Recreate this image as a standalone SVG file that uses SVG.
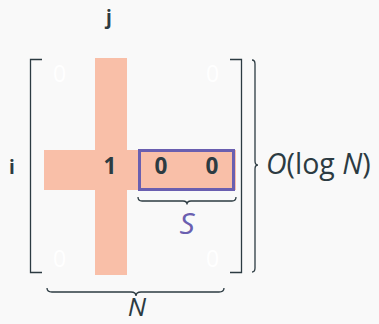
<svg xmlns="http://www.w3.org/2000/svg" width="379" height="324" viewBox="0 0 379 324">
<style>
.lbl{font-family:"Open Sans","Noto Sans",sans-serif;fill:#2c3b42;text-anchor:middle}
.b{font-weight:bold}
.w{fill:#ffffff;font-weight:normal}
.br{fill:none;stroke:#2c3b42;stroke-width:1.3}
.math{font-family:"Open Sans","Noto Sans",sans-serif;font-style:italic}
</style>
<rect width="379" height="324" fill="#f9f9f9"/>
<g id="cross">
<rect x="95" y="58" width="32" height="217" fill="#f9bfa8"/>
<rect x="44" y="150" width="192" height="40" fill="#f9bfa8"/>
</g>
<g id="matrix-brackets">
<path class="br" d="M42,59.5 H30.5 V272.5 H42"/>
<path class="br" d="M230,59.5 H241.5 V272.5 H230"/>
</g>
<g id="row-labels">
<text class="lbl b" x="109" y="24" font-size="19">j</text>
<text class="lbl b" x="12" y="174" font-size="19">i</text>
</g>
<g id="entries">
<text class="lbl w" x="59.5" y="82" font-size="23">0</text>
<text class="lbl w" x="212.5" y="82" font-size="23">0</text>
<text class="lbl w" x="59.5" y="267" font-size="23">0</text>
<text class="lbl w" x="212.5" y="267" font-size="23">0</text>
<text class="lbl b" x="110" y="174" font-size="22.5">1</text>
</g>
<g id="S-box">
<rect x="139.5" y="150.5" width="94" height="39" fill="none" stroke="#6a5fb0" stroke-width="3"/>
<text class="lbl b" x="161" y="174" font-size="22.5">0</text>
<text class="lbl b" x="212" y="174" font-size="22.5">0</text>
</g>
<g id="connectors">
<path class="br" d="M138,197 Q138,201 142,201 L183,201 Q187,201 187,204.5 Q187,201 191,201 L232,201 Q236,201 236,197"/>
<path class="br" d="M47,288 Q47,292 52,292 L131,292 Q136,292 136,296 Q136,292 141,292 L219,292 Q224,292 224,288"/>
<path class="br" d="M252,60 Q255,60 255,64 L255,161 Q255,165 258,165 Q255,165 255,169 L255,268 Q255,272 252,272"/>
</g>
<g id="S-label">
<text class="math" x="187" y="234" font-size="30" fill="#6a5fb0" text-anchor="middle">S</text>
</g>
<g id="N-label">
<text class="math" x="137" y="316" font-size="26" fill="#2c3b42" text-anchor="middle">N</text>
</g>
<g id="O-label">
<text x="266" y="174" font-size="28.5" fill="#2c3b42" font-family="Open Sans, Noto Sans, sans-serif"><tspan font-style="italic">O</tspan>(log <tspan font-style="italic">N</tspan>)</text>
</g>
</svg>
